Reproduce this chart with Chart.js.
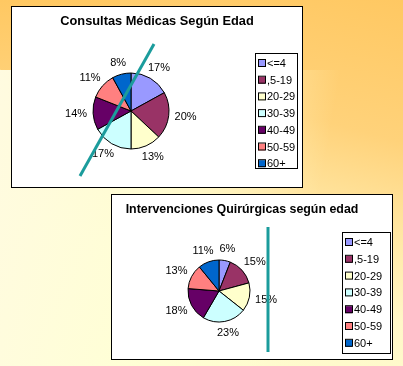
<!DOCTYPE html>
<html>
<head>
<meta charset="utf-8">
<script src="https://cdn.jsdelivr.net/npm/chart.js@4.4.1/dist/chart.umd.min.js"></script>
<style>
  html, body { margin: 0; padding: 0; }
  body {
    width: 403px; height: 366px; position: relative; overflow: hidden;
    background: linear-gradient(195deg, #ffc862 0%, #ffd27a 30%, #ffe9a8 52%, #fff7c8 68%, #ffffd2 100%);
    font-family: "Liberation Sans", Arial, sans-serif;
  }
  .corner {
    position: absolute; left: 0; top: 0; width: 120px; height: 90px;
    background: linear-gradient(180deg, #ffc862, #ffd27a);
    clip-path: polygon(0 0, 100% 0, 100% 60%, 14px 100%, 0 76%);
  }
  .fade {
    position: absolute; left: 0; top: 70px; width: 403px; height: 296px;
    background: linear-gradient(100deg, #fffbe0 0%, rgba(255,255,214,0.85) 40%, rgba(255,255,214,0) 75%);
  }
  .box { position: absolute; background: #fff; border: 1px solid #000; }
  .box canvas { display: block; }
</style>
</head>
<body>
<div class="corner"></div>
<div class="fade"></div>
<div class="box" style="left:11px; top:6px; width:290px; height:180px;">
  <canvas id="chart1" width="290" height="180"></canvas>
</div>
<div class="box" style="left:111px; top:194px; width:280px; height:164px;">
  <canvas id="chart2" width="280" height="164"></canvas>
</div>
<script>
// Age groups and percentages
const ageGroups = ["<=4", ",5-19", "20-29", "30-39", "40-49", "50-59", "60+"];
const consultas = [17, 20, 13, 17, 14, 11, 8];
const intervenciones = [6, 15, 15, 23, 18, 13, 11];

const sliceColors = ["#9999ff", "#993366", "#ffffcc", "#ccffff", "#660066", "#ff8080", "#0066cc"];

const FONT = '"Liberation Sans", Arial, sans-serif';

// Excel style extras: centered title, outside percentage labels,
// boxed legend and the hand drawn teal stroke
const excelDecor = {
  id: "excelDecor",
  afterDraw(chart, args, opts) {
    const ctx = chart.ctx;
    const meta = chart.getDatasetMeta(0);
    const values = chart.data.datasets[0].data;
    const total = values.reduce((a, b) => a + b, 0);

    ctx.save();

    // title
    ctx.fillStyle = "#000";
    ctx.font = "bold " + opts.titleSize + "px " + FONT;
    ctx.textAlign = "center";
    ctx.textBaseline = "middle";
    ctx.fillText(opts.title, opts.titleX, opts.titleY);

    // percentage labels outside the slices
    ctx.font = "11px " + FONT;
    meta.data.forEach((arc, i) => {
      const mid = (arc.startAngle + arc.endAngle) / 2;
      const text = Math.round((values[i] / total) * 100) + "%";
      const hw = ctx.measureText(text).width / 2;
      const d = arc.outerRadius + opts.labelGap;
      const x = arc.x + Math.cos(mid) * (d + hw);
      const y = arc.y + Math.sin(mid) * (d + 6);
      ctx.fillText(text, x, y);
    });

    // legend
    const lg = opts.legend;
    ctx.fillStyle = "#fff";
    ctx.fillRect(lg.x, lg.y, lg.w, lg.h);
    ctx.strokeStyle = "#000";
    ctx.lineWidth = 1;
    ctx.strokeRect(lg.x + 0.5, lg.y + 0.5, lg.w - 1, lg.h - 1);
    ctx.textAlign = "left";
    chart.data.labels.forEach((label, i) => {
      const cy = lg.firstY + i * lg.step;
      ctx.fillStyle = sliceColors[i];
      ctx.fillRect(lg.x + 3, cy - 3, 7, 7);
      ctx.strokeStyle = "#000";
      ctx.strokeRect(lg.x + 3.5, cy - 3.5, 7, 7);
      ctx.fillStyle = "#000";
      ctx.fillText(label, lg.x + 12, cy + 1);
    });

    // teal annotation stroke
    ctx.strokeStyle = "#1b9c9c";
    ctx.lineWidth = 3;
    ctx.beginPath();
    ctx.moveTo(opts.stroke[0], opts.stroke[1]);
    ctx.lineTo(opts.stroke[2], opts.stroke[3]);
    ctx.stroke();

    ctx.restore();
  },
};

function makePie(id, values, radius, padding, decor) {
  new Chart(document.getElementById(id), {
    type: "pie",
    data: {
      labels: ageGroups,
      datasets: [
        {
          data: values,
          backgroundColor: sliceColors,
          borderColor: "#000",
          borderWidth: 1,
        },
      ],
    },
    options: {
      responsive: false,
      animation: false,
      radius: radius,
      layout: { padding: padding },
      plugins: {
        legend: { display: false },
        title: { display: false },
        tooltip: { enabled: false },
        excelDecor: decor,
      },
    },
    plugins: [excelDecor],
  });
}

makePie("chart1", consultas, 38, { left: 10, right: 62, top: 40, bottom: 12 }, {
  title: "Consultas Médicas Según Edad",
  titleSize: 12.8,
  titleX: 145,
  titleY: 14,
  labelGap: 6,
  legend: { x: 243, y: 46, w: 43, h: 116, firstY: 56, step: 16.7 },
  stroke: [142, 37, 68, 169],
});

makePie("chart2", intervenciones, 31, { left: 10, right: 76, top: 40, bottom: 12 }, {
  title: "Intervenciones Quirúrgicas según edad",
  titleSize: 12.4,
  titleX: 130,
  titleY: 15,
  labelGap: 6,
  legend: { x: 230, y: 37, w: 49, h: 122, firstY: 47, step: 16.8 },
  stroke: [156, 32, 156, 157],
});
</script>
</body>
</html>
